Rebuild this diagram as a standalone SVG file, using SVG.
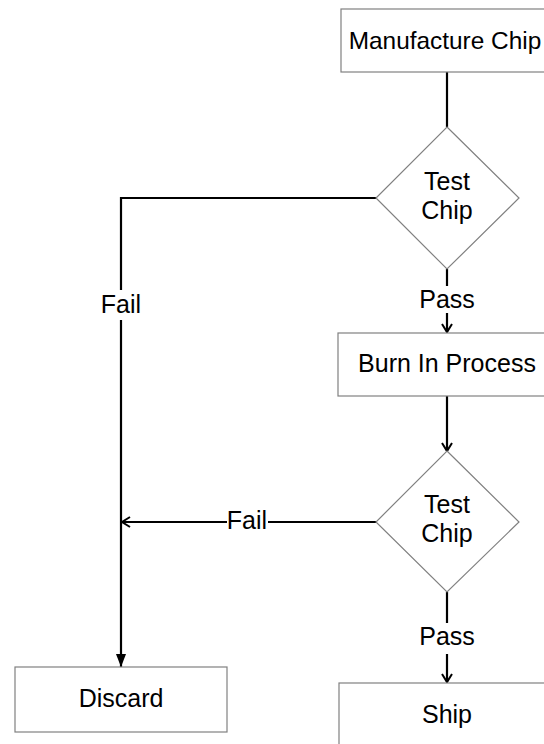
<svg xmlns="http://www.w3.org/2000/svg" width="544" height="744" viewBox="0 0 544 744">
<style>
.shape{fill:#fff;stroke:#808080;stroke-width:1.2}
.t{font-family:"Liberation Sans",Arial,sans-serif;font-size:25px;fill:#000;text-anchor:middle}
.c{fill:none;stroke:#000;stroke-width:2.2}
</style>
<defs>
<marker id="open" markerWidth="12" markerHeight="12" refX="10" refY="6" orient="auto" markerUnits="userSpaceOnUse">
<path d="M2,1 L10,6 L2,11" fill="none" stroke="#000" stroke-width="2"/>
</marker>
<marker id="solid" markerWidth="14" markerHeight="14" refX="13" refY="7" orient="auto" markerUnits="userSpaceOnUse">
<path d="M0,2 L13,7 L0,12 Z" fill="#000"/>
</marker>
</defs>
<rect width="544" height="744" fill="#fff"/>
<g id="connectors">
<path class="c" d="M447,72 V127"/>
<path class="c" d="M376,198 H121 V290"/>
<path class="c" d="M121,320 V667" marker-end="url(#solid)"/>
<path class="c" d="M447,269 V286"/>
<path class="c" d="M447,313 V332" marker-end="url(#open)"/>
<path class="c" d="M447,396 V451" marker-end="url(#open)"/>
<path class="c" d="M376,522 H268"/>
<path class="c" d="M227,522 H122" marker-end="url(#open)"/>
<path class="c" d="M447,592 V623"/>
<path class="c" d="M447,654 V682" marker-end="url(#open)"/>
<text class="t" x="121" y="313">Fail</text>
<text class="t" x="447" y="308">Pass</text>
<text class="t" x="247" y="529">Fail</text>
<text class="t" x="447" y="645">Pass</text>
</g>
<g id="manufacture">
<rect class="shape" x="341" y="9" width="212" height="63"/>
<text class="t" x="445" y="49" style="font-size:24.4px">Manufacture Chip</text>
</g>
<g id="test1">
<polygon class="shape" points="447,127 519,198 447,269 376,198"/>
<text class="t" x="447" y="190">Test</text>
<text class="t" x="447" y="219">Chip</text>
</g>
<g id="burnin">
<rect class="shape" x="338" y="333" width="218" height="63"/>
<text class="t" x="447" y="372">Burn In Process</text>
</g>
<g id="test2">
<polygon class="shape" points="447,451 519,522 447,592 376,522"/>
<text class="t" x="447" y="513">Test</text>
<text class="t" x="447" y="542">Chip</text>
</g>
<g id="discard">
<rect class="shape" x="15" y="667" width="212" height="65"/>
<text class="t" x="121" y="707">Discard</text>
</g>
<g id="ship">
<rect class="shape" x="339" y="683" width="216" height="64"/>
<text class="t" x="447" y="723">Ship</text>
</g>
</svg>
